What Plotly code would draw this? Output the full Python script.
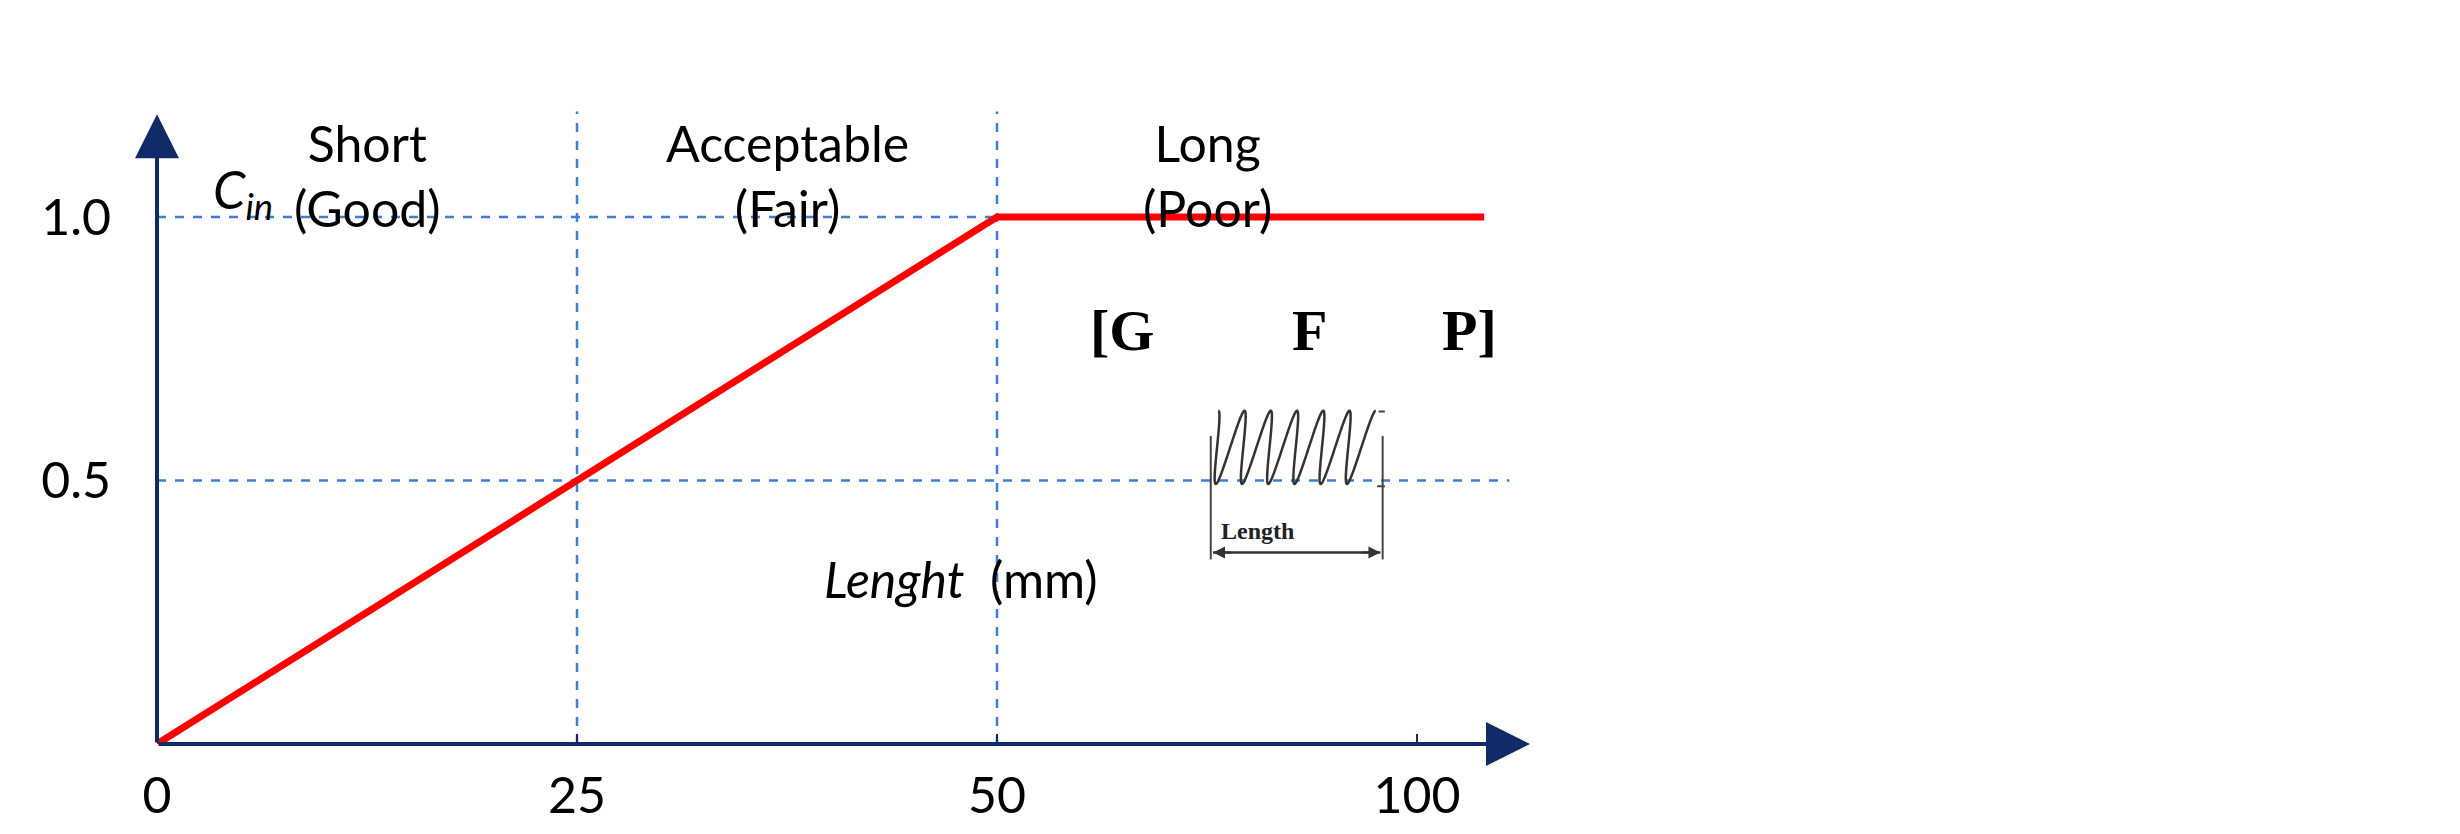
import numpy as np
import plotly.graph_objects as go

# ---- data ----
line_mm = [0, 50, 108]
line_cin = [0, 1.0, 1.0]
tick_mm = [0, 25, 50, 100]
tick_text = ["0", "25", "50", "100"]
ytick_vals = [0.5, 1.0]
ytick_text = ["0.5", "1.0"]
zone_labels = ["Short<br>(Good)", "Acceptable<br>(Fair)", "Long<br>(Poor)"]
zone_centers_mm = [12.5, 37.5, 75]
grade_labels = ["[G", "F", "P]"]

W, H = 2460, 834
FONT = "Lato"
NAVY = "#0f2a66"
DASH = "#3c7fd6"


def pos(mm):
    mm = np.asarray(mm, dtype=float)
    return np.where(mm <= 50, mm / 25.0, 2 + (mm - 50) / 50.0)


def px(x, y):
    return x / W, 1 - y / H


fig = go.Figure()

# dashed guide lines
for v in [25, 50]:
    fig.add_trace(go.Scatter(x=[float(pos(v))] * 2, y=[0, 1.2], mode="lines",
                             line=dict(color=DASH, width=2.5, dash="dash"),
                             hoverinfo="skip", showlegend=False))
fig.add_trace(go.Scatter(x=[0, float(pos(50))], y=[1.0, 1.0], mode="lines",
                         line=dict(color=DASH, width=2.5, dash="dash"),
                         hoverinfo="skip", showlegend=False))
fig.add_trace(go.Scatter(x=[0, float(pos(111))], y=[0.5, 0.5], mode="lines",
                         line=dict(color=DASH, width=2.5, dash="dash"),
                         hoverinfo="skip", showlegend=False))

# red curve
fig.add_trace(go.Scatter(x=pos(line_mm), y=line_cin, mode="lines",
                         line=dict(color="#ff0000", width=7),
                         hoverinfo="skip", showlegend=False))

XMAX = 1373 / 420
YMAX = 636 / 527

annotations = []
# axes arrows
annotations.append(dict(x=XMAX, y=0, ax=0, ay=0, xref="x", yref="y", axref="x", ayref="y",
                        showarrow=True, arrowhead=2, arrowsize=2.2, arrowwidth=4,
                        arrowcolor=NAVY, text=""))
annotations.append(dict(x=0, y=1.195, ax=0, ay=0, xref="x", yref="y", axref="x", ayref="y",
                        showarrow=True, arrowhead=2, arrowsize=2.2, arrowwidth=4,
                        arrowcolor=NAVY, text=""))

# zone labels
for lab, c in zip(zone_labels, zone_centers_mm):
    xc = float(pos(c))
    annotations.append(dict(x=xc, y=1 - 88 / H, xref="x", yref="paper", text=lab,
                            showarrow=False, font=dict(family=FONT, size=50, color="black"),
                            xanchor="center", yanchor="middle"))

annotations.append(dict(x=97 / W, y=1 - 63 / H, xref="paper", yref="paper",
                        text="<i>C<sub>in</sub></i>", showarrow=False,
                        font=dict(family=FONT, size=52, color="black")))
annotations.append(dict(x=1440 / W, y=1 - 660 / H, xref="paper", yref="paper",
                        text="<i>Lenght</i>  (mm)", showarrow=False,
                        font=dict(family=FONT, size=50, color="black")))

# grade letters
for lab, xx in zip(grade_labels, [1790, 2099, 2405]):
    annotations.append(dict(x=xx / W, y=1 - 247 / H, xref="paper", yref="paper", text="<b>" + lab + "</b>",
                            showarrow=False, font=dict(family="Liberation Serif", size=58, color="black")))

annotations.append(dict(x=2040 / W, y=1 - 555 / H, xref="paper", yref="paper", text="<b>Length</b>",
                        showarrow=False, font=dict(family="Liberation Serif", size=24, color="#222")))

# spring illustration (paper coords)
shapes = []
t = np.linspace(0, 2 * np.pi * 6, 900)
sx = 47 * t / (2 * np.pi) + 14 * np.cos(t)
sy = 445 + 48 * np.cos(t + np.pi / 2 * 0) * -1
sx = sx - sx.min() + 1895
pts = [px(a, b) for a, b in zip(sx, sy)]
path = "M " + " L ".join(f"{a:.5f},{b:.5f}" for a, b in pts)
shapes.append(dict(type="path", path=path, xref="paper", yref="paper",
                   line=dict(color="#333", width=2.5)))
for xv in [1888, 2196]:
    a, b1 = px(xv, 430)
    _, b2 = px(xv, 592)
    shapes.append(dict(type="line", x0=a, x1=a, y0=b1, y1=b2, xref="paper", yref="paper",
                       line=dict(color="#444", width=2)))
a1, by = px(1892, 583)
a2, _ = px(2192, 583)
shapes.append(dict(type="line", x0=a1, x1=a2, y0=by, y1=by, xref="paper", yref="paper",
                   line=dict(color="#333", width=2.5)))
annotations.append(dict(x=a2, y=by, ax=-20, ay=0, xref="paper", yref="paper",
                        showarrow=True, arrowhead=2, arrowsize=1.2,
                        arrowwidth=2, arrowcolor="#333", text=""))
annotations.append(dict(x=a1, y=by, ax=20, ay=0, xref="paper", yref="paper",
                        showarrow=True, arrowhead=2, arrowsize=1.2,
                        arrowwidth=2, arrowcolor="#333", text=""))
a, b = px(2196, 398)
a3, _ = px(2200, 398)
shapes.append(dict(type="line", x0=a - 0.003, x1=a3, y0=b, y1=b, xref="paper", yref="paper",
                   line=dict(color="#444", width=2)))
a, b = px(2196, 496)
shapes.append(dict(type="line", x0=a - 0.004, x1=a3, y0=b, y1=b, xref="paper", yref="paper",
                   line=dict(color="#444", width=2)))

fig.update_layout(
    width=W, height=H,
    margin=dict(l=149, r=W - 1522, t=100, b=98),
    paper_bgcolor="white", plot_bgcolor="white",
    showlegend=False,
    annotations=annotations, shapes=shapes,
    xaxis=dict(range=[0, XMAX], showgrid=False, zeroline=False, showline=False,
               tickvals=[float(v) for v in pos(tick_mm)], ticktext=tick_text,
               ticks="inside", ticklen=10, tickwidth=2, tickcolor=NAVY,
               ticklabelstandoff=18,
               tickfont=dict(family=FONT, size=50, color="black")),
    yaxis=dict(range=[0, YMAX], showgrid=False, zeroline=False, showline=False,
               tickvals=ytick_vals, ticktext=ytick_text, ticks="",
               ticklabelstandoff=45,
               tickfont=dict(family=FONT, size=50, color="black")),
)

fig.write_html("out.html")
